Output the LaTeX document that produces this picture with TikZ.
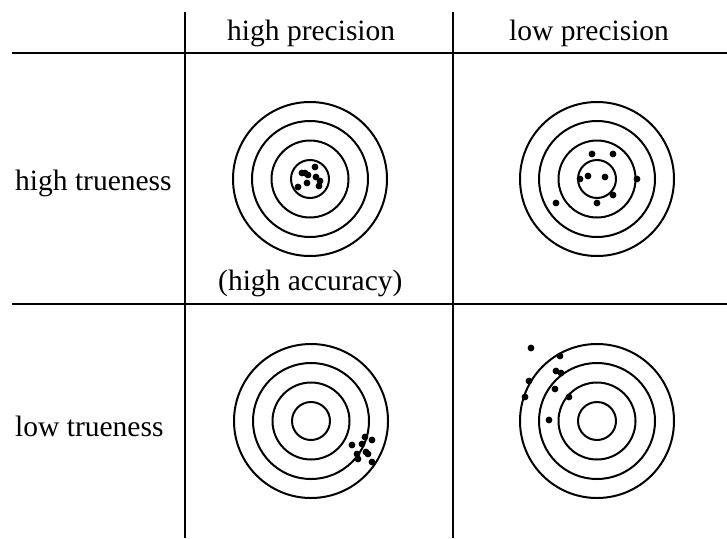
\documentclass[tikz,border=0pt]{standalone}
\usepackage{fontspec}
\setmainfont{Liberation Serif}
\begin{document}
\begin{tikzpicture}[x=1pt,y=-1pt,
  gridline/.style={line width=2pt},
  ring/.style={line width=2pt},
  lab/.style={font=\fontsize{29.5}{36}\selectfont, inner sep=0pt, anchor=base west},
  target/.pic={
    \draw[ring] (0,0) circle[radius=19pt];
    \draw[ring] (0,0) circle[radius=38.5pt];
    \draw[ring] (0,0) circle[radius=58pt];
    \draw[ring] (0,0) circle[radius=77pt];
  }]
\useasboundingbox (0,0) rectangle (727,538);
% grid
\coordinate (hl1) at (12,53);  \coordinate (hr1) at (727,53);
\coordinate (hl2) at (12,304); \coordinate (hr2) at (727,304);
\coordinate (vt1) at (185,12); \coordinate (vb1) at (185,538);
\coordinate (vt2) at (453,12); \coordinate (vb2) at (453,538);
\draw[gridline] (hl1) -- (hr1);
\draw[gridline] (hl2) -- (hr2);
\draw[gridline] (vt1) -- (vb1);
\draw[gridline] (vt2) -- (vb2);
% labels
\node[lab] (hp) at (227,40) {high precision};
\node[lab] (lp) at (509,40) {low precision};
\node[lab] (ht) at (15,190) {high trueness};
\node[lab] (lt) at (15,436) {low trueness};
\node[lab] (ha) at (218,290) {(high accuracy)};
% targets
\pic at (310,179) {target};
\pic at (597,179) {target};
\pic at (311,421) {target};
\pic at (597,421) {target};
% dots
\begin{scope}[shift={(310,179)}]
\foreach \p in {(5,-12),(-8,-6),(-2,-4),(-3,4),(6,-2),(9,7),(-12,8),(10,2),(-5,-6)}
  \fill \p circle[radius=3.4pt];
\end{scope}
\begin{scope}[shift={(597,179)}]
\foreach \p in {(-5,-25),(16,-25),(-9,-3),(-17,0),(8,-2),(40,0),(16,16),(0,24),(-41,24)}
  \fill \p circle[radius=3.4pt];
\end{scope}
\begin{scope}[shift={(311,421)}]
\foreach \p in {(54,16),(61,19),(41,24),(51,23),(55,31),(46,33),(57,33),(47,38),(61,41)}
  \fill \p circle[radius=3.4pt];
\end{scope}
\begin{scope}[shift={(597,421)}]
\foreach \p in {(-66,-73),(-37,-65),(-41,-50),(-36,-48),(-68,-40),(-72,-24),(-42,-32),(-28,-24),(-48,-1)}
  \fill \p circle[radius=3.4pt];
\end{scope}
\end{tikzpicture}
\end{document}
